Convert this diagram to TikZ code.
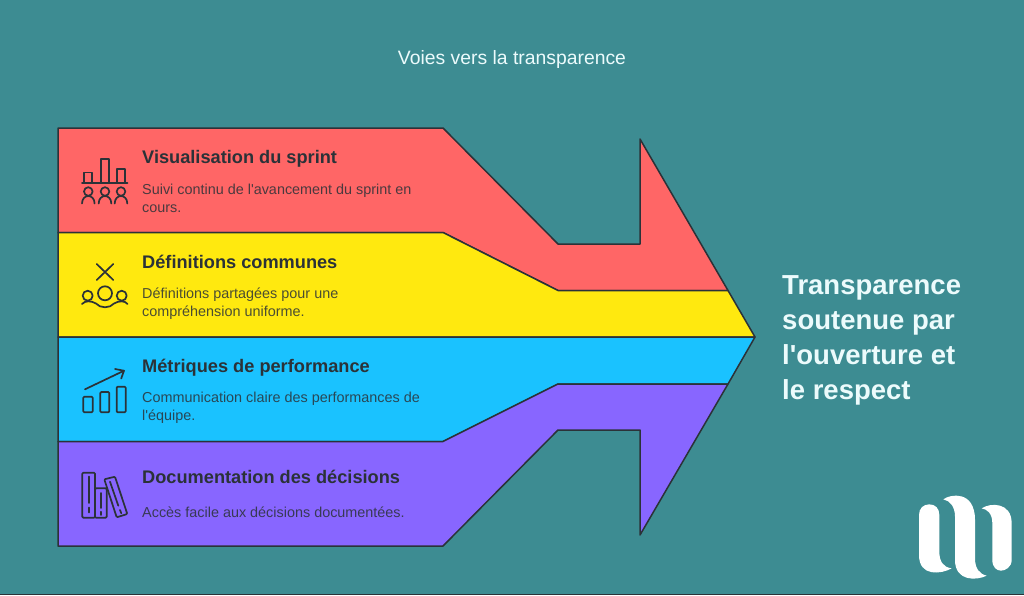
\documentclass[tikz,border=0pt]{standalone}
\usepackage{fontspec}
\setmainfont{Liberation Sans}[Ligatures=TeXOff]
\definecolor{bgc}{HTML}{3D8C92}
\definecolor{redc}{HTML}{FF6666}
\definecolor{yelc}{HTML}{FFE90F}
\definecolor{bluc}{HTML}{1AC2FF}
\definecolor{purc}{HTML}{8866FF}
\definecolor{inkc}{HTML}{2B3238}
\definecolor{paper}{HTML}{ECFBFC}
\tikzset{
  band/.style={draw=inkc,line width=1.5pt,line join=round},
  icon/.style={draw=inkc,line width=1.7pt,line cap=round,line join=round},
  headtext/.style={anchor=base west,inner sep=0pt,text=inkc,font=\fontsize{18.2}{21}\selectfont\bfseries},
  bodytext/.style={anchor=west,inner sep=0pt,text=inkc,text opacity=0.85,align=left,font=\fontsize{14.4}{18}\selectfont},
  sidetext/.style={anchor=west,inner sep=0pt,text=paper,align=left,font=\fontsize{27.5}{35}\selectfont\bfseries},
  titletext/.style={inner sep=0pt,text=paper,font=\fontsize{19.35}{22}\selectfont}
}
\begin{document}
\begin{tikzpicture}[x=1pt,y=-1pt]
\useasboundingbox (0,0) rectangle (1024,595);
\fill[bgc] (0,0) rectangle (1024,595);
\draw[inkc,line width=1pt] (0,594.5) -- (1024,594.5);
% bands
\draw[band,fill=redc] (58,128) -- (443,128) -- (558,244) -- (640,244) -- (640,139) -- (728,290.5) -- (558,290.5) -- (443,232.5) -- (58,232.5) -- cycle;
\draw[band,fill=yelc] (58,232.5) -- (443,232.5) -- (558,290.5) -- (728,290.5) -- (755,337) -- (58,337) -- cycle;
\draw[band,fill=bluc] (58,337) -- (755,337) -- (728,384) -- (558,384) -- (443,441.5) -- (58,441.5) -- cycle;
\draw[band,fill=purc] (58,441.5) -- (443,441.5) -- (558,384) -- (728,384) -- (640,535) -- (640,430) -- (558,430) -- (443,546) -- (58,546) -- cycle;
% texts
\node[titletext] (title) at (512,59) {Voies vers la transparence};
\node[headtext] (h1) at (142,163) {Visualisation du sprint};
\node[bodytext] (b1) at (142,198) {Suivi continu de l'avancement du sprint en\\cours.};
\node[headtext] (h2) at (142,268) {Définitions communes};
\node[bodytext] (b2) at (142,303.5) {Définitions partagées pour une\\compréhension uniforme.};
\node[headtext] (h3) at (142,372.5) {Métriques de performance};
\node[bodytext] (b3) at (142,407.5) {Communication claire des performances de\\l'équipe.};
\node[headtext] (h4) at (142,483) {Documentation des décisions};
\node[bodytext] (b4) at (142,512) {Accès facile aux décisions documentées.};
\node[sidetext] (side) at (782,340) {Transparence\\soutenue par\\l'ouverture et\\le respect};
% icon 1
\draw[icon] (82,183) -- (127.5,183);
\draw[icon] (84,183) -- (84,172.5) -- (92.3,172.5) -- (92.3,183);
\draw[icon] (100.7,183) -- (100.7,159) -- (109,159) -- (109,183);
\draw[icon] (117.3,183) -- (117.3,168.7) -- (125,168.7) -- (125,183);
\foreach \cx in {88.3,105,121}{
  \draw[icon] (\cx,191.5) circle[radius=4.3];
  \draw[icon] (\cx-6.3,203.5) .. controls (\cx-6.3,198.5) and (\cx-3,196) .. (\cx,196) .. controls (\cx+3,196) and (\cx+6.3,198.5) .. (\cx+6.3,203.5);
}
% icon 2
\draw[icon] (96.7,264) -- (113.3,280) (113.3,264) -- (96.7,280);
\draw[icon] (105,293.3) circle[radius=7];
\draw[icon] (87.7,295.7) circle[radius=5];
\draw[icon] (121.7,295.7) circle[radius=5];
\draw[icon] (82,304) .. controls (85,300.5) and (91,300.5) .. (96,303.5) .. controls (100,308.5) and (110,308.5) .. (114,303.5) .. controls (119,300.5) and (125,300.5) .. (127.5,304);
% icon 3
\draw[icon] (85,389.3) -- (124,370.7) (115,369) -- (124,370.7) -- (121.2,378.5);
\draw[icon,rounded corners=1pt] (83.3,396.7) rectangle (92.7,412.3);
\draw[icon,rounded corners=1pt] (100.3,392) rectangle (109.3,412.3);
\draw[icon,rounded corners=1pt] (116.7,386.7) rectangle (125.7,412.3);
% icon 4
\draw[icon,rounded corners=1pt] (82.3,472.7) rectangle (95,517.7);
\draw[icon] (88.7,476.5) -- (88.7,503) (88.7,507.5) -- (88.7,512.5);
\draw[icon,rounded corners=1pt] (95,488.3) rectangle (106.7,517.7);
\draw[icon] (100.7,493) -- (100.7,508) (100.7,511.7) -- (100.7,515);
\draw[icon,rounded corners=1pt] (104.3,479.3) -- (115,476.7) -- (127.3,514) -- (116.7,517.3) -- cycle;
\draw[icon] (110,481.7) -- (118.3,505.7) (120,510) -- (121.3,513.3);
% logo
\begin{scope}[shift={(900,480)},x=0.33333pt,y=-0.33333pt]
\fill[white] (57,105) .. controls (57,85) and (70,73) .. (88,73) .. controls (106,73) and (118,85) .. (118,105) -- (118,215) .. controls (118,245) and (130,262) .. (155,265) .. controls (125,282) and (57,292) .. (57,225) -- cycle;
\fill[white] (130,58) .. controls (150,42) and (225,30) .. (225,120) -- (225,235) .. controls (225,265) and (238,282) .. (260,287) .. controls (230,302) and (165,305) .. (165,240) -- (165,110) .. controls (165,80) and (150,62) .. (130,58) -- cycle;
\fill[white] (245,85) .. controls (270,68) and (335,65) .. (335,130) -- (335,240) .. controls (335,262) and (315,272) .. (303,272) .. controls (290,272) and (277,262) .. (277,240) -- (277,130) .. controls (277,100) and (262,88) .. (245,85) -- cycle;
\end{scope}
\end{tikzpicture}
\end{document}
